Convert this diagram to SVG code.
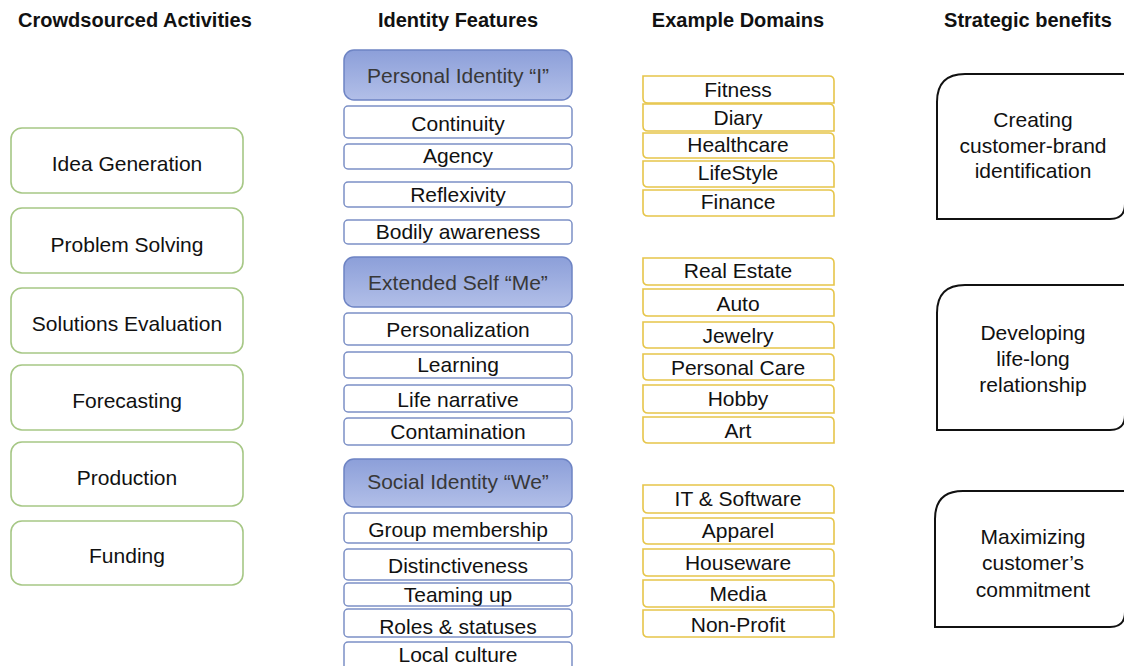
<svg xmlns="http://www.w3.org/2000/svg" width="1124" height="666" viewBox="0 0 1124 666">
<style>
text{font-family:"Liberation Sans",Arial,sans-serif;text-anchor:middle;fill:#111}
.h{font-weight:bold;font-size:20px}
.a{font-size:21px}
.f{font-size:21px}
.fh{font-size:21px;fill:#383838}
.d{font-size:21px}
.b{font-size:21px}
.act{fill:#fff;stroke:#a6c785;stroke-width:1.6}
.feat{fill:#fff;stroke:#7c90c6;stroke-width:1.5}
.fhead{fill:url(#blue);stroke:#6e84c4;stroke-width:1.5}
.dom{fill:#fff;stroke:#e6c54a;stroke-width:1.6}
.ben{fill:#fff;stroke:#111;stroke-width:2}
</style>
<defs>
<linearGradient id="blue" x1="0" y1="0" x2="0" y2="1">
<stop offset="0" stop-color="#8c9fd9"/>
<stop offset="1" stop-color="#b2bfe8"/>
</linearGradient>
</defs>
<rect width="1124" height="666" fill="#fff"/>
<g id="headers">
<text class="h" x="135" y="27">Crowdsourced Activities</text>
<text class="h" x="458" y="27">Identity Features</text>
<text class="h" x="738" y="27">Example Domains</text>
<text class="h" x="1028" y="27">Strategic benefits</text>
</g>
<g id="activities">
<g id="act1"><rect class="act" x="11" y="128" width="232" height="65" rx="11"/><text class="a" x="127" y="171">Idea Generation</text></g>
<g id="act2"><rect class="act" x="11" y="208" width="232" height="65" rx="11"/><text class="a" x="127" y="252">Problem Solving</text></g>
<g id="act3"><rect class="act" x="11" y="288" width="232" height="65" rx="11"/><text class="a" x="127" y="331">Solutions Evaluation</text></g>
<g id="act4"><rect class="act" x="11" y="365" width="232" height="65" rx="11"/><text class="a" x="127" y="408">Forecasting</text></g>
<g id="act5"><rect class="act" x="11" y="442" width="232" height="64" rx="11"/><text class="a" x="127" y="485">Production</text></g>
<g id="act6"><rect class="act" x="11" y="521" width="232" height="64" rx="11"/><text class="a" x="127" y="563">Funding</text></g>
</g>
<g id="features">
<g id="fh1"><rect class="fhead" x="344" y="50" width="228" height="50" rx="10"/><text class="fh" x="458" y="83">Personal Identity “I”</text></g>
<g id="f1"><rect class="feat" x="344" y="106" width="228" height="32" rx="4"/><text class="f" x="458" y="131">Continuity</text></g>
<g id="f2"><rect class="feat" x="344" y="144" width="228" height="25" rx="4"/><text class="f" x="458" y="163">Agency</text></g>
<g id="f3"><rect class="feat" x="344" y="182" width="228" height="25" rx="4"/><text class="f" x="458" y="202">Reflexivity</text></g>
<g id="f4"><rect class="feat" x="344" y="220" width="228" height="24" rx="4"/><text class="f" x="458" y="239">Bodily awareness</text></g>
<g id="fh2"><rect class="fhead" x="344" y="257" width="228" height="50" rx="10"/><text class="fh" x="458" y="290">Extended Self “Me”</text></g>
<g id="f5"><rect class="feat" x="344" y="313" width="228" height="32" rx="4"/><text class="f" x="458" y="337">Personalization</text></g>
<g id="f6"><rect class="feat" x="344" y="352" width="228" height="26" rx="4"/><text class="f" x="458" y="372">Learning</text></g>
<g id="f7"><rect class="feat" x="344" y="385" width="228" height="27" rx="4"/><text class="f" x="458" y="407">Life narrative</text></g>
<g id="f8"><rect class="feat" x="344" y="418" width="228" height="27" rx="4"/><text class="f" x="458" y="439">Contamination</text></g>
<g id="fh3"><rect class="fhead" x="344" y="459" width="228" height="48" rx="10"/><text class="fh" x="458" y="489">Social Identity “We”</text></g>
<g id="f9"><rect class="feat" x="344" y="513" width="228" height="30" rx="4"/><text class="f" x="458" y="537">Group membership</text></g>
<g id="f10"><rect class="feat" x="344" y="549" width="228" height="31" rx="4"/><text class="f" x="458" y="573">Distinctiveness</text></g>
<g id="f11"><rect class="feat" x="344" y="583" width="228" height="23" rx="4"/><text class="f" x="458" y="602">Teaming up</text></g>
<g id="f12"><rect class="feat" x="344" y="609" width="228" height="28" rx="4"/><text class="f" x="458" y="634">Roles &amp; statuses</text></g>
<g id="f13"><rect class="feat" x="344" y="642" width="228" height="30" rx="4"/><text class="f" x="458" y="662">Local culture</text></g>
</g>
<g id="domains">
<g id="d1"><path class="dom" d="M643,76H829Q834,76 834,81V103H648Q643,103 643,98Z"/><text class="d" x="738" y="97">Fitness</text></g>
<g id="d2"><path class="dom" d="M643,104H829Q834,104 834,109V131H648Q643,131 643,126Z"/><text class="d" x="738" y="125">Diary</text></g>
<g id="d3"><path class="dom" d="M643,133H829Q834,133 834,138V158H648Q643,158 643,153Z"/><text class="d" x="738" y="152">Healthcare</text></g>
<g id="d4"><path class="dom" d="M643,161H829Q834,161 834,166V187H648Q643,187 643,182Z"/><text class="d" x="738" y="180">LifeStyle</text></g>
<g id="d5"><path class="dom" d="M643,190H829Q834,190 834,195V216H648Q643,216 643,211Z"/><text class="d" x="738" y="209">Finance</text></g>
<g id="d6"><path class="dom" d="M643,258H829Q834,258 834,263V285H648Q643,285 643,280Z"/><text class="d" x="738" y="278">Real Estate</text></g>
<g id="d7"><path class="dom" d="M643,289H829Q834,289 834,294V316H648Q643,316 643,311Z"/><text class="d" x="738" y="311">Auto</text></g>
<g id="d8"><path class="dom" d="M643,322H829Q834,322 834,327V348H648Q643,348 643,343Z"/><text class="d" x="738" y="343">Jewelry</text></g>
<g id="d9"><path class="dom" d="M643,354H829Q834,354 834,359V380H648Q643,380 643,375Z"/><text class="d" x="738" y="375">Personal Care</text></g>
<g id="d10"><path class="dom" d="M643,385H829Q834,385 834,390V413H648Q643,413 643,408Z"/><text class="d" x="738" y="406">Hobby</text></g>
<g id="d11"><path class="dom" d="M643,417H829Q834,417 834,422V443H648Q643,443 643,438Z"/><text class="d" x="738" y="438">Art</text></g>
<g id="d12"><path class="dom" d="M643,485H829Q834,485 834,490V513H648Q643,513 643,508Z"/><text class="d" x="738" y="506">IT &amp; Software</text></g>
<g id="d13"><path class="dom" d="M643,518H829Q834,518 834,523V544H648Q643,544 643,539Z"/><text class="d" x="738" y="538">Apparel</text></g>
<g id="d14"><path class="dom" d="M643,549H829Q834,549 834,554V576H648Q643,576 643,571Z"/><text class="d" x="738" y="570">Houseware</text></g>
<g id="d15"><path class="dom" d="M643,580H829Q834,580 834,585V607H648Q643,607 643,602Z"/><text class="d" x="738" y="601">Media</text></g>
<g id="d16"><path class="dom" d="M643,610H829Q834,610 834,615V637H648Q643,637 643,632Z"/><text class="d" x="738" y="632">Non-Profit</text></g>
</g>
<g id="benefits">
<g id="b1"><path class="ben" d="M965,74H1125V204Q1125,219 1110,219H937V102Q937,74 965,74Z"/>
<text class="b" x="1033" y="127">Creating</text><text class="b" x="1033" y="153">customer-brand</text><text class="b" x="1033" y="178">identification</text></g>
<g id="b2"><path class="ben" d="M965,285H1125V415Q1125,430 1110,430H937V313Q937,285 965,285Z"/>
<text class="b" x="1033" y="340">Developing</text><text class="b" x="1033" y="366">life-long</text><text class="b" x="1033" y="392">relationship</text></g>
<g id="b3"><path class="ben" d="M963,491H1125V612Q1125,627 1110,627H935V519Q935,491 963,491Z"/>
<text class="b" x="1033" y="544">Maximizing</text><text class="b" x="1033" y="570">customer’s</text><text class="b" x="1033" y="597">commitment</text></g>
</g>
<g id="connectors"/>
</svg>
